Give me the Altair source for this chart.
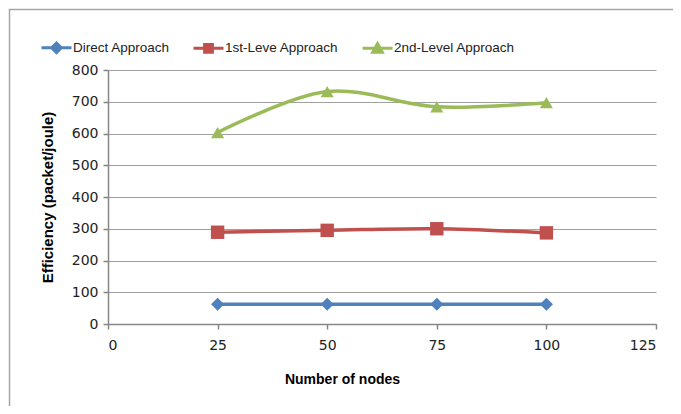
import altair as alt
import pandas as pd

nodes = [25, 50, 75, 100]
direct = [62, 62, 62, 62]
first_level = [289, 295, 300, 287]
second_level = [603, 732, 684, 697]

series_names = ["Direct Approach", "1st-Leve Approach", "2nd-Level Approach"]
colors = ["#4F81BD", "#C0504D", "#9BBB59"]
x_ticks = [0, 25, 50, 75, 100, 125]
y_ticks = [0, 100, 200, 300, 400, 500, 600, 700, 800]

rows = []
for name, vals in zip(series_names, [direct, first_level, second_level]):
    for n, v in zip(nodes, vals):
        rows.append({"nodes": n, "eff": v, "series": name})
df = pd.DataFrame(rows)

W, H = 548, 254
PL, PT, PR, PB = 100, 62, 17, 82
LABEL_FONT = "DejaVu Sans"
FONT = "Liberation Sans"

x_enc = alt.X(
    "nodes:Q",
    scale=alt.Scale(domain=[0, 125], nice=False),
    axis=alt.Axis(
        values=x_ticks, grid=False, title="Number of nodes",
        titleX=234, titleY=55, titleBaseline="middle", titleAlign="center",
        titleFontSize=14, labelPadding=9, tickSize=5,
    ),
)
y_enc = alt.Y(
    "eff:Q",
    scale=alt.Scale(domain=[0, 800], nice=False),
    axis=alt.Axis(
        values=y_ticks, grid=True, title="Efficiency  (packet/joule)",
        titleFontSize=15, titlePadding=16, labelPadding=5, tickSize=5,
    ),
)

base = alt.Chart(df)

frame = alt.Chart(pd.DataFrame({"k": [0]})).mark_rect(
    fill=None, stroke="#a6a6a6", strokeWidth=1.5
).encode(
    x=alt.value(-98.5), x2=alt.value(W + PR + 10),
    y=alt.value(-60.5), y2=alt.value(H + PB + 10),
)

shapes = ["diamond", "square", "triangle-up"]
sizes = [170, 180, 170]
layers = [frame]
for name, col, shp, sz in zip(series_names, colors, shapes, sizes):
    sub = base.transform_filter(alt.datum.series == name)
    layers.append(
        sub.mark_line(interpolate="catmull-rom", strokeWidth=3.5, color=col)
        .encode(x=x_enc, y=y_enc)
    )
    layers.append(
        sub.mark_point(shape=shp, filled=True, size=sz, opacity=1, color=col)
        .encode(x=x_enc, y=y_enc)
    )

legend_paths = [
    "M-1,0H1M0,-0.32L0.32,0L0,0.32L-0.32,0Z",
    "M-1,0H1M-0.26,-0.26H0.26V0.26H-0.26Z",
    "M-1,0H1M0,-0.32L0.32,0.26L-0.32,0.26Z",
]
leg = alt.Legend(
    title=None, orient="none", legendX=-68, legendY=-39, direction="horizontal",
    symbolSize=900, symbolStrokeWidth=3, symbolOpacity=1,
    labelFontSize=13.5, labelFont=FONT, labelColor="#222222",
    labelOffset=0, columnPadding=17, padding=0,
)
legend_layer = base.mark_point(filled=True, size=900, opacity=0, strokeWidth=3).encode(
    x=x_enc, y=y_enc,
    fill=alt.Fill("series:N", scale=alt.Scale(domain=series_names, range=colors), legend=leg),
    stroke=alt.Stroke("series:N", scale=alt.Scale(domain=series_names, range=colors), legend=leg),
    shape=alt.Shape("series:N", scale=alt.Scale(domain=series_names, range=legend_paths), legend=leg),
)
layers.append(legend_layer)

chart = alt.layer(*layers).properties(
    width=W, height=H,
    autosize=alt.AutoSizeParams(type="none"),
    padding={"left": PL, "top": PT, "right": PR, "bottom": PB},
    background="white",
).configure_view(stroke=None).configure_axis(
    labelFont=LABEL_FONT, labelFontSize=14, labelColor="#222222",
    titleFont=FONT, titleFontWeight="bold", titleColor="#000000",
    domainColor="#868686", domainWidth=1.5, tickColor="#868686", tickWidth=1.5,
    gridColor="#a0a0a0", gridWidth=1.2,
)

chart.save("out.html", embed_options={"renderer": "svg", "actions": False})
